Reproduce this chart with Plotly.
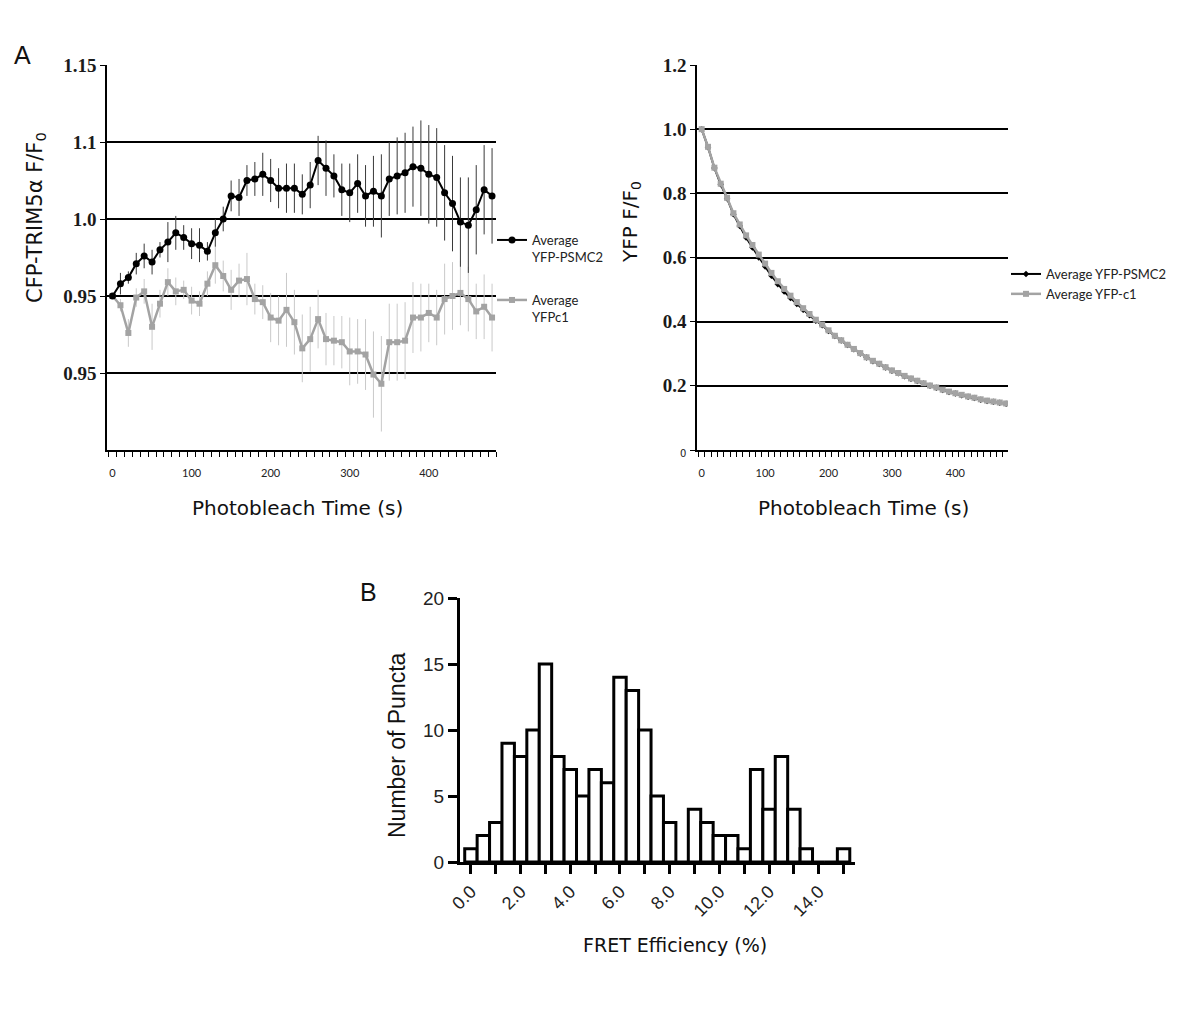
import plotly.graph_objects as go

# ---------------- data ----------------
time_s = [0, 10, 20, 30, 40, 50, 60, 70, 80, 90, 100, 110, 120, 130, 140, 150, 160, 170, 180, 190,
          200, 210, 220, 230, 240, 250, 260, 270, 280, 290, 300, 310, 320, 330, 340, 350, 360, 370,
          380, 390, 400, 410, 420, 430, 440, 450, 460, 470, 480]

cfp_psmc2 = [1.000, 1.008, 1.012, 1.021, 1.026, 1.022, 1.030, 1.035, 1.041, 1.038, 1.034, 1.033,
             1.029, 1.041, 1.050, 1.065, 1.064, 1.075, 1.076, 1.079, 1.075, 1.070, 1.070, 1.070,
             1.066, 1.072, 1.088, 1.083, 1.078, 1.069, 1.067, 1.073, 1.065, 1.068, 1.065, 1.076,
             1.078, 1.080, 1.084, 1.083, 1.079, 1.077, 1.067, 1.060, 1.048, 1.046, 1.056, 1.069, 1.065]
cfp_psmc2_err = [0, 0.007, 0.004, 0.007, 0.008, 0.008, 0.005, 0.013, 0.011, 0.008, 0.010, 0.011,
                 0.006, 0.009, 0.008, 0.010, 0.012, 0.010, 0.011, 0.014, 0.014, 0.013, 0.016, 0.016,
                 0.013, 0.015, 0.016, 0.018, 0.014, 0.017, 0.019, 0.019, 0.020, 0.023, 0.027, 0.024,
                 0.025, 0.026, 0.026, 0.031, 0.032, 0.032, 0.031, 0.031, 0.029, 0.031, 0.029, 0.029, 0.031]

cfp_c1 = [1.000, 0.994, 0.976, 0.999, 1.003, 0.980, 0.995, 1.009, 1.003, 1.004, 0.997, 0.995,
          1.008, 1.020, 1.013, 1.004, 1.010, 1.011, 0.998, 0.996, 0.986, 0.984, 0.991, 0.983,
          0.966, 0.972, 0.985, 0.972, 0.971, 0.970, 0.964, 0.964, 0.962, 0.949, 0.943, 0.970,
          0.970, 0.971, 0.986, 0.986, 0.989, 0.986, 0.998, 1.000, 1.002, 0.998, 0.990, 0.993, 0.986]
cfp_c1_err = [0, 0.004, 0.009, 0.006, 0.008, 0.015, 0.009, 0.009, 0.009, 0.006, 0.009, 0.008,
              0.008, 0.012, 0.010, 0.013, 0.011, 0.017, 0.010, 0.011, 0.016, 0.016, 0.024, 0.021,
              0.022, 0.021, 0.019, 0.017, 0.016, 0.017, 0.022, 0.021, 0.023, 0.028, 0.031, 0.025,
              0.025, 0.025, 0.023, 0.022, 0.019, 0.018, 0.023, 0.022, 0.021, 0.021, 0.018, 0.021, 0.022]

# left axis gridline values and their printed labels (as in the original figure)
left_tickvals = [0.95, 1.00, 1.05, 1.10, 1.15]
left_ticktext = ["0.95", "0.95", "1.0", "1.1", "1.15"]

yfp_c1 = [1.000, 0.945, 0.880, 0.830, 0.786, 0.738, 0.703, 0.669, 0.639, 0.609, 0.581, 0.552,
          0.526, 0.502, 0.481, 0.461, 0.442, 0.424, 0.406, 0.391, 0.373, 0.356, 0.342, 0.328,
          0.315, 0.302, 0.289, 0.278, 0.269, 0.258, 0.248, 0.240, 0.231, 0.223, 0.216, 0.208,
          0.201, 0.195, 0.188, 0.182, 0.177, 0.172, 0.167, 0.163, 0.158, 0.154, 0.151, 0.148, 0.145]
yfp_psmc2 = [1.000, 0.944, 0.879, 0.828, 0.784, 0.735, 0.698, 0.662, 0.631, 0.600, 0.572, 0.543,
             0.517, 0.494, 0.474, 0.455, 0.437, 0.420, 0.403, 0.389, 0.371, 0.355, 0.341, 0.327,
             0.314, 0.301, 0.288, 0.277, 0.268, 0.257, 0.247, 0.239, 0.230, 0.222, 0.215, 0.207,
             0.200, 0.194, 0.187, 0.181, 0.176, 0.171, 0.166, 0.162, 0.157, 0.153, 0.150, 0.147, 0.144]
right_tickvals = [0, 0.2, 0.4, 0.6, 0.8, 1.0, 1.2]
right_ticktext = ["<span style='font-family:DejaVu Sans;font-size:10px;font-weight:normal'>0</span>",
                  "0.2", "0.4", "0.6", "0.8", "1.0", "1.2"]

fret_bins = [0.0, 0.5, 1.0, 1.5, 2.0, 2.5, 3.0, 3.5, 4.0, 4.5, 5.0, 5.5, 6.0, 6.5, 7.0, 7.5,
             8.0, 8.5, 9.0, 9.5, 10.0, 10.5, 11.0, 11.5, 12.0, 12.5, 13.0, 13.5, 14.0, 14.5, 15.0]
puncta_counts = [1, 2, 3, 9, 8, 10, 15, 8, 7, 5, 7, 6, 14, 13, 10, 5,
                 3, 0, 4, 3, 2, 2, 1, 7, 4, 8, 4, 1, 0, 0, 1]

time_ticks = [0, 100, 200, 300, 400]

# ---------------- figure ----------------
W, H = 1200, 1010
def px(x):
    return x / W
def py(y):
    return 1 - y / H

fig = go.Figure()

GRAY = "#a3a3a3"
GRAY_ERR = "#c9c9c9"

# Left panel
fig.add_trace(go.Scatter(
    x=time_s, y=cfp_c1, mode="lines+markers", name="Average<br>YFPc1",
    line=dict(color=GRAY, width=2.5), marker=dict(symbol="square", size=6, color=GRAY),
    error_y=dict(type="data", array=cfp_c1_err, visible=True, color=GRAY_ERR, thickness=1, width=0),
    xaxis="x", yaxis="y", legend="legend2"))
fig.add_trace(go.Scatter(
    x=time_s, y=cfp_psmc2, mode="lines+markers", name="Average<br>YFP-PSMC2",
    line=dict(color="black", width=2), marker=dict(symbol="circle", size=7, color="black"),
    error_y=dict(type="data", array=cfp_psmc2_err, visible=True, color="#3a3a3a", thickness=1, width=0),
    xaxis="x", yaxis="y", legend="legend"))

# Right panel
fig.add_trace(go.Scatter(
    x=time_s, y=yfp_psmc2, mode="lines+markers", name="Average YFP-PSMC2",
    line=dict(color="black", width=2), marker=dict(symbol="diamond", size=5, color="black"),
    xaxis="x2", yaxis="y2", legend="legend3"))
fig.add_trace(go.Scatter(
    x=time_s, y=yfp_c1, mode="lines+markers", name="Average YFP-c1",
    line=dict(color=GRAY, width=2.5), marker=dict(symbol="square", size=6, color=GRAY),
    xaxis="x2", yaxis="y2", legend="legend3"))

# Histogram
fig.add_trace(go.Bar(
    x=fret_bins, y=puncta_counts, width=0.5, showlegend=False,
    marker=dict(color="white", line=dict(color="black", width=3)),
    xaxis="x3", yaxis="y3"))

tick_font_small = dict(family="Lato", size=11, color="#222")
serif_font = dict(family="Liberation Serif", size=19, color="#1a1a1a", weight="bold")

common_x = dict(showline=True, linecolor="black", linewidth=1.5, showgrid=False, zeroline=False,
                automargin=False,
                tickvals=time_ticks, ticks="", tickfont=tick_font_small, ticklabelstandoff=12,
                minor=dict(ticks="outside", ticklen=5, tickwidth=1, tickcolor="black",
                           tick0=-5, dtick=10, showgrid=False))

legend_font = dict(family="Lato", size=13, color="#222")

fig.update_layout(
    width=W, height=H, margin=dict(l=0, r=0, t=0, b=0, pad=0, autoexpand=False),
    paper_bgcolor="white", plot_bgcolor="white",
    xaxis=dict(domain=[px(107), px(496)], range=[-7, 485], anchor="y", **common_x),
    yaxis=dict(domain=[py(450), py(65)], range=[0.90, 1.15], anchor="x", automargin=False,
               tickvals=left_tickvals, ticktext=left_ticktext, tickfont=serif_font,
               showline=True, linecolor="black", linewidth=1.5, ticks="outside", ticklen=5,
               tickcolor="black", showgrid=True, gridcolor="black", gridwidth=2, zeroline=False),
    xaxis2=dict(domain=[px(697), px(1008)], range=[-7.4, 483], anchor="y2", **common_x),
    yaxis2=dict(domain=[py(450), py(65)], range=[0, 1.2], anchor="x2", automargin=False,
                tickvals=right_tickvals, ticktext=right_ticktext, tickfont=serif_font,
                showline=True, linecolor="black", linewidth=1.5, ticks="outside", ticklen=5,
                tickcolor="black", showgrid=True, gridcolor="black", gridwidth=2, zeroline=False),
    xaxis3=dict(domain=[px(460), px(855)], range=[-0.44, 15.46], anchor="y3", automargin=False,
                showline=True, linecolor="black", linewidth=3, showgrid=False, zeroline=False,
                tick0=0, dtick=2, tickformat=".1f", tickangle=-45, ticks="outside", ticklen=9,
                tickwidth=3, tickcolor="black",
                tickfont=dict(family="Liberation Sans", size=18, color="#222"),
                minor=dict(ticks="outside", ticklen=9, tickwidth=3, tickcolor="black",
                           tick0=0, dtick=1, showgrid=False)),
    yaxis3=dict(domain=[py(862), py(598)], range=[0, 20], anchor="x3", automargin=False,
                showline=True, linecolor="black", linewidth=3, showgrid=False, zeroline=False,
                tick0=0, dtick=5, ticks="outside", ticklen=9, tickwidth=3, tickcolor="black",
                tickfont=dict(family="Liberation Sans", size=19, color="#222")),
    legend=dict(x=px(492), y=py(225), xanchor="left", yanchor="top", valign="top",
                font=legend_font, bgcolor="rgba(0,0,0,0)", itemwidth=30),
    legend2=dict(x=px(492), y=py(285), xanchor="left", yanchor="top", valign="top",
                 font=legend_font, bgcolor="rgba(0,0,0,0)", itemwidth=30),
    legend3=dict(x=px(1006), y=py(259), xanchor="left", yanchor="top",
                 font=legend_font, bgcolor="rgba(0,0,0,0)", itemwidth=30, tracegroupgap=0),
)

title_font = dict(family="DejaVu Sans", size=20, color="#111")
ann = [
    dict(text="A", x=px(22), y=py(55), font=dict(family="Liberation Sans", size=25, color="#111")),
    dict(text="B", x=px(368), y=py(592), font=dict(family="Liberation Sans", size=25, color="#111")),
    dict(text="Photobleach Time (s)", x=px(297), y=py(508), font=title_font),
    dict(text="Photobleach Time (s)", x=px(863), y=py(508), font=title_font),
    dict(text="CFP-TRIM5α F/F<sub>0</sub>", x=px(36), y=py(218), textangle=-90,
         font=dict(family="DejaVu Sans", size=21, color="#111")),
    dict(text="YFP F/F<sub>0</sub>", x=px(631), y=py(222), textangle=-90, font=title_font),
    dict(text="Number of Puncta", x=px(397), y=py(745), textangle=-90,
         font=dict(family="Liberation Sans", size=23, color="#111")),
    dict(text="FRET Efficiency (%)", x=px(675), y=py(945), font=dict(family="DejaVu Sans", size=19, color="#111")),
]
for a in ann:
    fig.add_annotation(xref="paper", yref="paper", showarrow=False, xanchor="center", yanchor="middle", **a)

fig.write_html("out.html", config={"displayModeBar": False},
               post_script="document.body.style.margin='0';")
